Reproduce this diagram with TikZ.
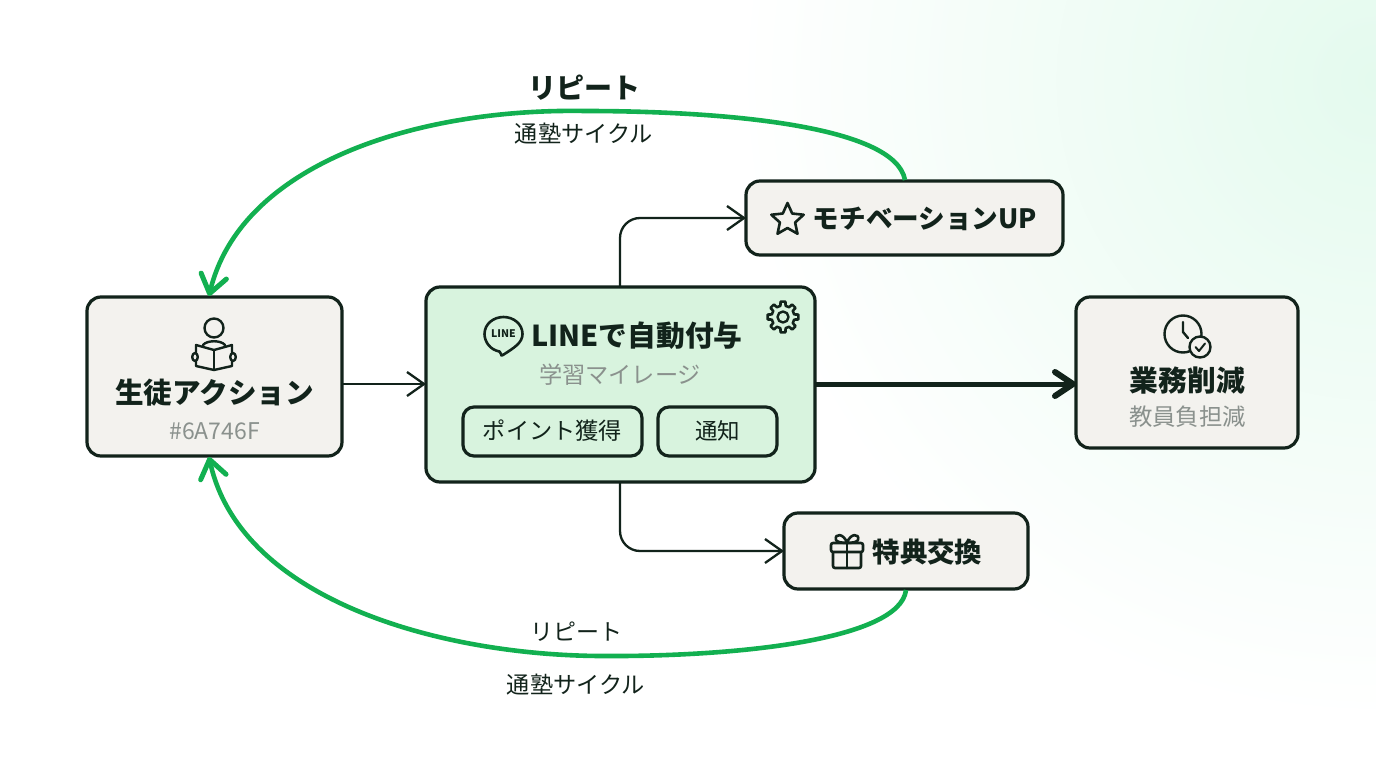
\documentclass[tikz,border=0pt]{standalone}
\usepackage{fontspec}
\setmainfont{Noto Sans CJK JP}
\usetikzlibrary{arrows.meta,calc}
\definecolor{ink}{HTML}{12231B}
\definecolor{boxfill}{HTML}{F3F2EE}
\definecolor{midfill}{HTML}{D8F3DE}
\definecolor{grn}{HTML}{12B050}
\definecolor{mute}{HTML}{8A918D}
\definecolor{bgg}{HTML}{E4FAEE}
\newcommand{\fs}[1]{\fontsize{#1}{#1}\selectfont}
\tikzset{
  x=1pt,y=-1pt,
  cardbox/.style={draw=ink,line width=3.2pt,fill=boxfill,rounded corners=14pt,inner sep=0pt,outer sep=0pt,anchor=north west},
  midbox/.style={cardbox,fill=midfill},
  chipbox/.style={draw=ink,line width=3.2pt,rounded corners=11pt,inner sep=0pt,outer sep=0pt,anchor=north west},
  txt/.style={text=ink,inner sep=0pt,anchor=center},
  flow/.style={draw=ink,line width=2.3pt,rounded corners=20pt,-{Straight Barb[length=17pt,width=24pt,line width=2.3pt]}},
  heavy/.style={draw=ink,line width=5pt,-{Straight Barb[length=18pt,width=24pt,line width=6pt,round]}},
  loopline/.style={draw=grn,line width=4.6pt,-{Straight Barb[length=18pt,width=26pt,line width=5pt,round]}},
  ico/.style={draw=ink,line width=2.4pt,line join=round,line cap=round},
}
\begin{document}
\begin{tikzpicture}
\useasboundingbox (0,0) rectangle (1376,768);
\begin{scope}
\clip (0,0) rectangle (1376,768);
\fill[white] (0,0) rectangle (1376,768);
\shade[inner color=bgg,outer color=white] (1376,80) circle[radius=640pt];
\end{scope}
% boxes
\node[cardbox,minimum width=255pt,minimum height=159pt] (student) at (87,297) {};
\node[midbox,minimum width=389pt,minimum height=195pt] (line) at (426,287) {};
\node[cardbox,minimum width=317pt,minimum height=74pt] (moti) at (746,181) {};
\node[cardbox,minimum width=222pt,minimum height=151pt] (work) at (1076,297) {};
\node[cardbox,minimum width=244pt,minimum height=76pt] (gift) at (784,513) {};
\node[chipbox,minimum width=179pt,minimum height=49pt] (chipa) at (463,407) {};
\node[chipbox,minimum width=119pt,minimum height=49pt] (chipb) at (658,407) {};
% student text
\node[txt,font=\bfseries\fs{28.6}] (t1) at (214.5,393) {生徒アクション};
\node[txt,text=mute,font=\fs{23}] (t2) at (214.5,431) {\#6A746F};
% line text
\node[txt,font=\bfseries\fs{28.8}] (t3) at (637,336) {LINEで自動付与};
\node[txt,text=mute,font=\fs{23.2}] (t4) at (620,375) {学習マイレージ};
\node[txt,font=\fs{23.2}] (t5) at (552.5,431) {ポイント獲得};
\node[txt,font=\fs{22.5}] (t6) at (717.5,431) {通知};
% others
\node[txt,font=\bfseries\fs{26.6}] (t7) at (925,219) {モチベーションUP};
\node[txt,font=\bfseries\fs{27.4}] (t8) at (927.5,552) {特典交換};
\node[txt,font=\bfseries\fs{28.8}] (t9) at (1187.5,380.5) {業務削減};
\node[txt,text=mute,font=\fs{23.4}] (t10) at (1187.5,417) {教員負担減};
% loop labels
\node[txt,font=\bfseries\fs{28}] (l1) at (584,88) {リピート};
\node[txt,font=\fs{23.2}] (l2) at (584,134) {通塾サイクル};
\node[txt,font=\fs{23}] (l3) at (576,632) {リピート};
\node[txt,font=\fs{23.2}] (l4) at (576,685) {通塾サイクル};
% connectors
\coordinate (rowa) at (0,384);
\coordinate (topa) at (620,218);
\coordinate (bota) at (620,551);
\draw[flow,rounded corners=0pt] (student.east |- rowa) -- (line.west |- rowa);
\draw[heavy] (line.east |- rowa) -- (work.west |- rowa);
\draw[flow] (topa |- line.north) -- (topa) -- (moti.west |- topa);
\draw[flow] (bota |- line.south) -- (bota) -- (gift.west |- bota);
\coordinate (mt) at (905,180);
\coordinate (gb) at (906,590);
\coordinate (st) at (209,296);
\coordinate (sb) at (209,457);
\draw[loopline] (mt) .. controls (895,125) and (720,111) .. (585,111)
  .. controls (415,108) and (240,165) .. (st);
\draw[loopline] (gb) .. controls (900,640) and (735,657) .. (600,656)
  .. controls (440,655) and (240,600) .. (sb);
% person + book icon
\begin{scope}[ico,shift={(214,340)}]
\draw (0,-12) circle[radius=9.5pt];
\draw (-11,5) .. controls (-7,0) and (7,0) .. (11,5);
\draw (0,10) -- (-18,5) -- (-18,26) -- (0,30) -- (18,26) -- (18,5) -- cycle;
\draw (0,10) -- (0,30);
\draw[fill=boxfill] (-19,17) ellipse[x radius=2.8pt,y radius=4pt];
\draw[fill=boxfill] (19,17) ellipse[x radius=2.8pt,y radius=4pt];
\end{scope}
% LINE icon
\begin{scope}[ico,shift={(503.5,334)}]
\draw[line width=2.6pt] (-4,17.5) .. controls (-13,16) and (-19,8) .. (-19,0)
  .. controls (-19,-10) and (-10,-17) .. (0,-17) .. controls (10,-17) and (19,-10) .. (19,0)
  .. controls (19,9) and (10,14) .. (1,20) .. controls (-2,22) and (-3,22) .. (-2.5,20) -- cycle;
\node[txt,font=\bfseries\fs{10.5}] (lineico) at (0,-0.5) {LINE};
\end{scope}
% gear icon
\begin{scope}[ico,shift={(783,317)}]
\draw[line width=2.6pt] (-13:11.5)
  \foreach \a in {0,45,...,315}{
    -- (\a-13:11.5) -- (\a-9:15.5) -- (\a+9:15.5) -- (\a+13:11.5)
  } -- cycle;
\draw (0,0) circle[radius=5.5pt];
\end{scope}
% star icon
\begin{scope}[ico,line width=2.6pt,shift={(787.5,220)}]
\draw (-90:17) -- (-54:8) -- (-18:17) -- (18:8) -- (54:17) -- (90:8)
  -- (126:17) -- (162:8) -- (198:17) -- (234:8) -- cycle;
\end{scope}
% clock icon
\begin{scope}[ico,shift={(1183,334)}]
\draw (0,0) circle[radius=18.5pt];
\draw (0,-12) -- (0,-2) -- (5,4);
\draw[fill=boxfill] (17,13) circle[radius=10.5pt];
\draw[line width=2pt] (12.5,13) -- (16,17) -- (22,9.5);
\end{scope}
% gift icon
\begin{scope}[ico,line width=2.6pt,shift={(847,552)}]
\draw[rounded corners=2pt] (-14,-4) rectangle (14,16);
\draw[fill=boxfill,rounded corners=2pt] (-16,-9) rectangle (16,0);
\draw (0,-9) -- (0,16);
\draw (0,-9) .. controls (-3,-19) and (-13,-19) .. (-11,-12) .. controls (-10,-10) and (-5,-9) .. (0,-9);
\draw (0,-9) .. controls (3,-19) and (13,-19) .. (11,-12) .. controls (10,-10) and (5,-9) .. (0,-9);
\end{scope}
\end{tikzpicture}
\end{document}
